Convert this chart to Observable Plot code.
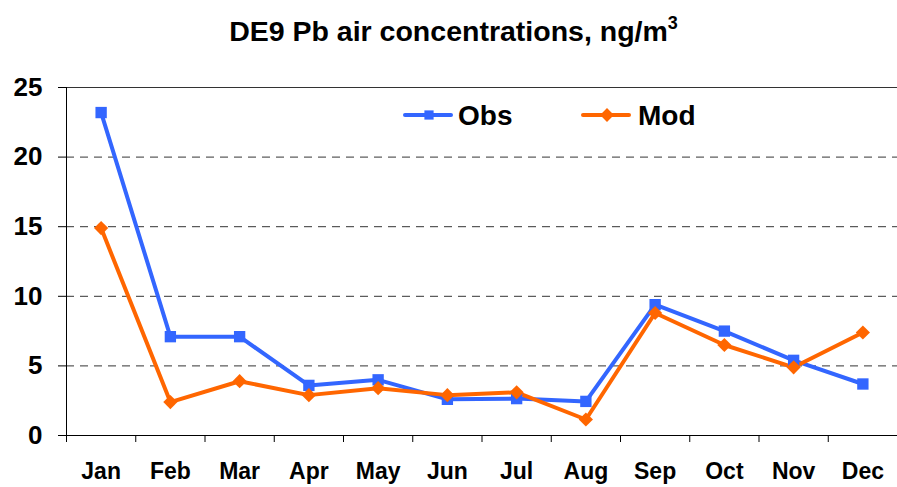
<!DOCTYPE html>
<html><head><meta charset="utf-8">
<script src="https://cdn.jsdelivr.net/npm/d3@7"></script>
<script src="https://cdn.jsdelivr.net/npm/@observablehq/plot@0.6"></script>
<style>
body{margin:0;background:#fff;font-family:"Liberation Sans",Arial,sans-serif;}
#wrap{position:relative;width:897px;height:487px;overflow:hidden}
#chart{position:absolute;top:0;left:0}
#title{position:absolute;top:15px;left:0;width:897px;text-align:center;font-weight:bold;font-size:28.5px;line-height:32px;padding-left:10px;box-sizing:border-box;color:#000}
#title .sup{font-size:18px;position:relative;top:-12px}
#legend{position:absolute;top:0;left:0}
</style></head>
<body>
<div id="wrap"><div id="chart"></div><div id="title">DE9 Pb air concentrations, ng/m<span class="sup">3</span></div><svg id="legend" width="897" height="487"></svg></div>
<script>
const months = ["Jan","Feb","Mar","Apr","May","Jun","Jul","Aug","Sep","Oct","Nov","Dec"];
const obs = [23.2, 7.1, 7.1, 3.6, 4.0, 2.6, 2.65, 2.45, 9.4, 7.5, 5.4, 3.7];
const mod = [14.9, 2.4, 3.9, 2.9, 3.4, 2.9, 3.1, 1.15, 8.8, 6.5, 4.9, 7.4];
const yTicks = [0, 5, 10, 15, 20, 25];
const gridTicks = [5, 10, 15, 20];
const seriesNames = ["Obs", "Mod"];
const seriesColors = ["#3366FF", "#FF6600"];
const seriesSymbols = ["square", "diamond2"];

const valuesBySeries = {Obs: obs, Mod: mod};
const data = seriesNames.flatMap(s => valuesBySeries[s].map((v, i) => ({series: s, month: i + 1, value: v})));
const monthIdx = months.map((m, i) => i + 1);
const bounds = d3.range(0, months.length + 1).map(i => i + 0.5);

const chart = Plot.plot({
  width: 897, height: 487,
  marginTop: 87, marginBottom: 52, marginLeft: 66, marginRight: 0,
  style: {fontFamily: "Liberation Sans, Arial, sans-serif", color: "#000", background: "#fff"},
  x: {domain: [0.5, months.length + 0.5]},
  y: {domain: [0, 25]},
  color: {domain: seriesNames, range: seriesColors},
  symbol: {domain: seriesNames, range: seriesSymbols},
  marks: [
    Plot.gridY(gridTicks, {stroke: "#000", strokeOpacity: 0.8, strokeDasharray: "8,6"}),
    Plot.ruleY([25], {stroke: "#000", strokeOpacity: 0.8}),
    Plot.ruleY([0], {stroke: "#000"}),
    Plot.ruleX([0.5], {stroke: "#000"}),
    Plot.axisY({ticks: yTicks, tickSize: 8, tickPadding: 16, fontSize: 26, fontWeight: "bold", label: null}),
    Plot.axisX({ticks: bounds, tickSize: 7, tickFormat: () => "", label: null}),
    Plot.axisX({ticks: monthIdx, tickSize: 0, tickPadding: 27, tickFormat: i => months[i - 1], fontSize: 23, fontWeight: "bold", label: null}),
    Plot.line(data, {x: "month", y: "value", stroke: "series", strokeWidth: 4}),
    Plot.dot(data, {x: "month", y: "value", fill: "series", symbol: "series", r: 6.4})
  ]
});
document.getElementById("chart").appendChild(chart);

// legend
const lg = d3.select("#legend");
const legendPos = [{x: 405, tx: 458}, {x: 583, tx: 638}];
const legendSizes = [5.2, 6.2];
seriesNames.forEach((s, i) => {
  const p = legendPos[i], y = 115;
  lg.append("line").attr("x1", p.x).attr("x2", p.x + 46).attr("y1", y).attr("y2", y)
    .attr("stroke", seriesColors[i]).attr("stroke-width", 4).attr("stroke-linecap", "round");
  const sym = i === 0 ? d3.symbolSquare : d3.symbolDiamond2;
  lg.append("path").attr("d", d3.symbol(sym, Math.PI * legendSizes[i] * legendSizes[i])())
    .attr("transform", `translate(${p.x + 24},${y})`).attr("fill", seriesColors[i]);
  lg.append("text").attr("x", p.tx).attr("y", y + 10).text(s)
    .attr("font-family", "Liberation Sans, Arial, sans-serif").attr("font-weight", "bold").attr("font-size", 28).attr("fill", "#000");
});
</script>
</body></html>
